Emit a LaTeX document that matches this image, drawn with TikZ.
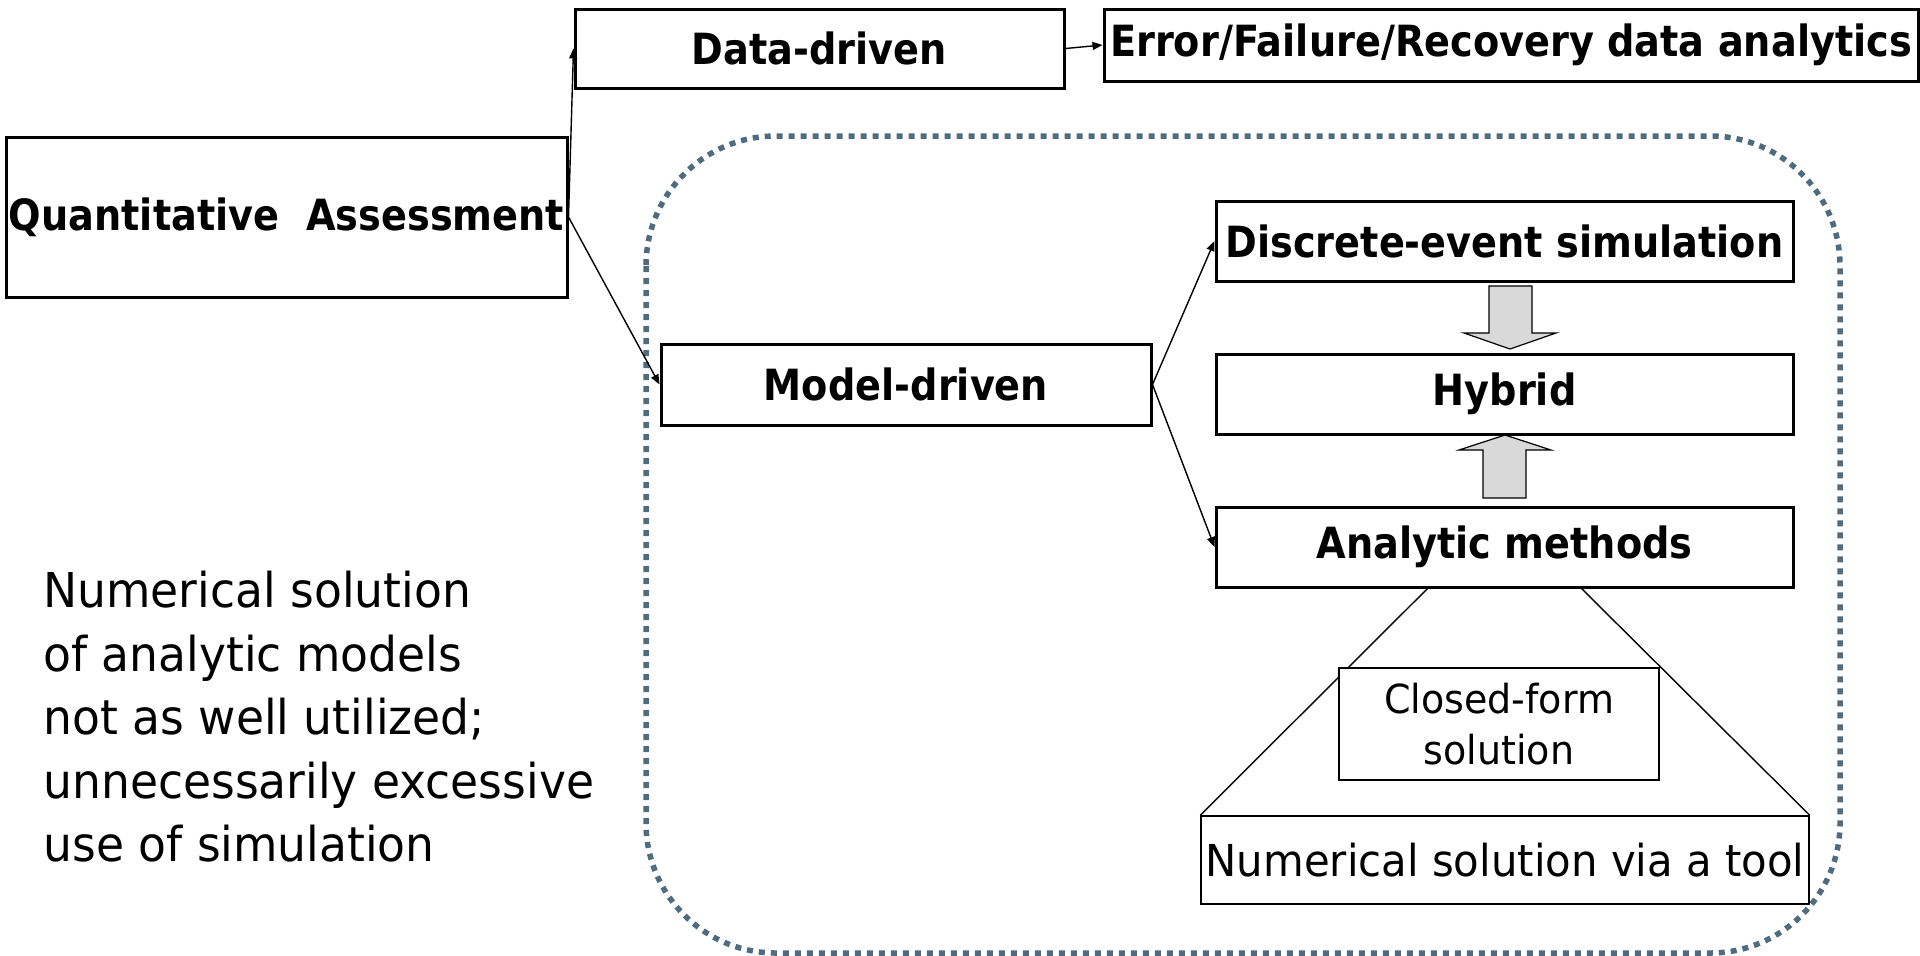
\documentclass[tikz,border=0pt]{standalone}
\usepackage{fontspec}
\setmainfont{DejaVu Sans}[FakeStretch=0.95, BoldFeatures={FakeStretch=0.89}]
\usepackage{tikz}
\usepackage{xcolor}
\usetikzlibrary{calc}
\usetikzlibrary{positioning}
\usetikzlibrary{arrows.meta}
\definecolor{frameblue}{HTML}{4E6B80}

\begin{document}
\begin{tikzpicture}[x=0.5pt,y=-0.5pt,>={Triangle[length=5pt,width=4pt]},
	main box/.style={draw=black, fill=white, rectangle, line width=1.5pt, inner sep=0pt, font=\bfseries\fontsize{21.5}{25}\selectfont},
	thin box/.style={draw=black, fill=white, rectangle, line width=0.75pt, inner sep=0pt, align=center},
	link/.style={line width=0.7pt},
	block arrow/.style={draw=black, fill=black!15, line width=0.6pt}]

  \useasboundingbox (0,0) rectangle (1920,955);

  % model-driven frame
  \draw[draw=frameblue, line width=2.75pt, dash pattern=on 3pt off 3pt, rounded corners=65pt] (646,136) rectangle (1840,953);

  \node[main box, minimum width=280.5pt, minimum height=80pt] (qa) at (286.5,217) {Quantitative~~Assessment};
  \node[main box, minimum width=244.5pt, minimum height=39.5pt] (dd) at (819.5,48.5) {Data-driven};
  \node[main box, minimum width=407pt, minimum height=36pt] (err) at (1511,45) {Error/Failure/Recovery data analytics};
  \node[main box, minimum width=245pt, minimum height=40.5pt] (md) at (906,384.5) {Model-driven};
  \node[main box, minimum width=288.5pt, minimum height=40pt] (des) at (1504.5,241) {Discrete-event simulation};
  \node[main box, minimum width=288.5pt, minimum height=40pt] (hyb) [below=35pt of des] {Hybrid};
  \node[main box, minimum width=288.5pt, minimum height=40pt] (am) [below=35pt of hyb] {Analytic methods};
  \node[thin box, minimum width=304pt, minimum height=44pt, font=\fontsize{22}{28}\selectfont] (num) at (1505,860) {Numerical solution via a tool};

  \path[link] ([xshift=-38.5pt]am.south) edge [] (num.north west);
  \path[link] ([xshift=38.5pt]am.south) edge [] (num.north east);

  \node[thin box, minimum width=160pt, minimum height=56pt, font=\fontsize{20}{25.5}\selectfont] (cf) at (1499,724) {Closed-form\\solution};

  \node[anchor=north west, align=left, inner sep=0pt, font=\fontsize{24}{31.75}\selectfont] (note) at (43,571) {Numerical solution\\of analytic models\\not as well utilized;\\unnecessarily excessive\\use of simulation};

  \path[->, link] (qa.east) edge [] (dd.west);
  \path[->, link] (qa.east) edge [] (md.west);
  \path[->, link] (dd.east) edge [] (err.west);
  \path[->, link] (md.east) edge [] (des.west);
  \path[->, link] (md.east) edge [] (am.west);

  % hybrid arrows
  \draw[block arrow] (1489,286) -- (1532,286) -- (1532,333) -- (1556,333) -- (1510,349) -- (1464,333) -- (1489,333) -- cycle;
  \draw[block arrow] (1483,498) -- (1526,498) -- (1526,450) -- (1551,450) -- (1505,435) -- (1459,450) -- (1483,450) -- cycle;
\end{tikzpicture}
\end{document}
